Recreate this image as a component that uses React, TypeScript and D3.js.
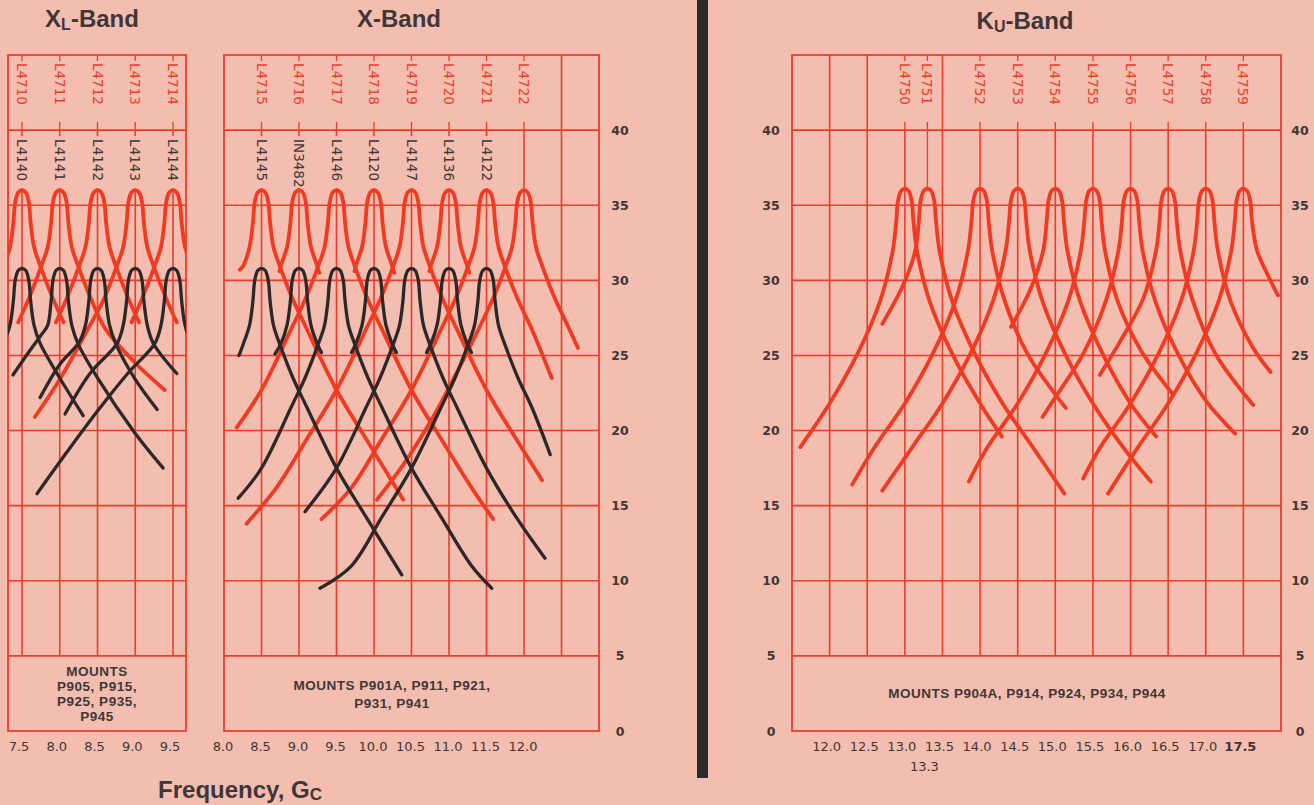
import React from "react";
import * as d3 from "d3";

type Pt = [number, number];

// ---------- axis / label data ----------
const valueTicks = [0, 5, 10, 15, 20, 25, 30, 35, 40];
const xlFreqTicks = [7.5, 8.0, 8.5, 9.0, 9.5];
const xFreqTicks = [8.0, 8.5, 9.0, 9.5, 10.0, 10.5, 11.0, 11.5, 12.0];
const kuFreqTicks = [12.0, 12.5, 13.0, 13.5, 14.0, 14.5, 15.0, 15.5, 16.0, 16.5, 17.0, 17.5];
const kuExtraTick = 13.3;

const xlRedLabels = ["L4710", "L4711", "L4712", "L4713", "L4714"];
const xlBlackLabels = ["L4140", "L4141", "L4142", "L4143", "L4144"];
const xlLabelFreqs = [7.5, 8.0, 8.5, 9.0, 9.5];

const xRedLabels = ["L4715", "L4716", "L4717", "L4718", "L4719", "L4720", "L4721", "L4722"];
const xRedFreqs = [8.5, 9.0, 9.5, 10.0, 10.5, 11.0, 11.5, 12.0];
const xBlackLabels = ["L4145", "IN3482", "L4146", "L4120", "L4147", "L4136", "L4122"];
const xBlackFreqs = [8.5, 9.0, 9.5, 10.0, 10.5, 11.0, 11.5];

const kuRedLabels = ["L4750", "L4751", "L4752", "L4753", "L4754", "L4755", "L4756", "L4757", "L4758", "L4759"];
const kuRedFreqs = [13.0, 13.3, 14.0, 14.5, 15.0, 15.5, 16.0, 16.5, 17.0, 17.5];

const xlMounts = ["MOUNTS", "P905, P915,", "P925, P935,", "P945"];
const xMounts = ["MOUNTS P901A, P911, P921,", "P931, P941"];
const kuMounts = ["MOUNTS P904A, P914, P924, P934, P944"];

// ---------- curve data (frequency Gc, value) ----------
const xlRed: Pt[][] = [
  [[7.2, 30.4], [7.26, 31.0], [7.34, 32.2], [7.385, 33.8], [7.41, 35.2], [7.45, 35.85], [7.5, 36], [7.55, 35.85], [7.59, 35.2], [7.615, 33.8], [7.66, 32.2], [7.74, 31.0], [7.9, 28.9], [8.05, 27.2]],
  [[7.45, 27.2], [7.6, 28.9], [7.76, 31.0], [7.84, 32.2], [7.885, 33.8], [7.91, 35.2], [7.95, 35.85], [8.0, 36], [8.05, 35.85], [8.09, 35.2], [8.115, 33.8], [8.16, 32.2], [8.24, 31.0], [8.42, 28.7], [8.6, 26.8], [9.0, 24.5], [9.39, 22.7]],
  [[7.95, 27.2], [8.1, 28.9], [8.26, 31.0], [8.34, 32.2], [8.385, 33.8], [8.41, 35.2], [8.45, 35.85], [8.5, 36], [8.55, 35.85], [8.59, 35.2], [8.615, 33.8], [8.66, 32.2], [8.74, 31.0], [8.9, 28.9], [9.05, 27.2]],
  [[7.67, 20.9], [8.0, 23.4], [8.4, 27.0], [8.58, 28.7], [8.76, 31.0], [8.84, 32.2], [8.885, 33.8], [8.91, 35.2], [8.95, 35.85], [9.0, 36], [9.05, 35.85], [9.09, 35.2], [9.115, 33.8], [9.16, 32.2], [9.24, 31.0], [9.4, 28.9], [9.55, 27.2]],
  [[8.95, 27.2], [9.1, 28.9], [9.26, 31.0], [9.34, 32.2], [9.385, 33.8], [9.41, 35.2], [9.45, 35.85], [9.5, 36], [9.55, 35.85], [9.59, 35.2], [9.615, 33.8], [9.66, 32.2], [9.74, 31.0], [9.8, 30.2]],
];
const xlBlack: Pt[][] = [
  [[7.2, 24.6], [7.26, 25.8], [7.34, 27.0], [7.385, 28.6], [7.41, 30.0], [7.45, 30.65], [7.5, 30.8], [7.55, 30.65], [7.59, 30.0], [7.615, 28.6], [7.66, 27.0], [7.74, 25.8], [8.0, 23.5], [8.31, 21.0]],
  [[7.38, 23.7], [7.6, 25.3], [7.76, 26.4], [7.84, 27.0], [7.885, 28.6], [7.91, 30.0], [7.95, 30.65], [8.0, 30.8], [8.05, 30.65], [8.09, 30.0], [8.115, 28.6], [8.16, 27.0], [8.24, 25.8], [8.5, 23.5], [9.0, 19.8], [9.37, 17.5]],
  [[7.74, 22.2], [8.0, 24.4], [8.26, 25.9], [8.34, 27.0], [8.385, 28.6], [8.41, 30.0], [8.45, 30.65], [8.5, 30.8], [8.55, 30.65], [8.59, 30.0], [8.615, 28.6], [8.66, 27.0], [8.74, 25.8], [9.0, 23.4], [9.29, 21.4]],
  [[8.07, 21.1], [8.4, 23.8], [8.76, 25.8], [8.84, 27.0], [8.885, 28.6], [8.91, 30.0], [8.95, 30.65], [9.0, 30.8], [9.05, 30.65], [9.09, 30.0], [9.115, 28.6], [9.16, 27.0], [9.24, 25.8], [9.55, 23.8]],
  [[7.7, 15.8], [8.1, 18.6], [8.5, 21.3], [8.9, 23.8], [9.26, 25.8], [9.34, 27.0], [9.385, 28.6], [9.41, 30.0], [9.45, 30.65], [9.5, 30.8], [9.55, 30.65], [9.59, 30.0], [9.615, 28.6], [9.66, 27.0], [9.74, 25.8], [9.8, 25.2]],
];

const xRed: Pt[][] = [
  [[8.21, 30.7], [8.26, 31.0], [8.34, 32.2], [8.385, 33.8], [8.41, 35.2], [8.45, 35.85], [8.5, 36], [8.55, 35.85], [8.59, 35.2], [8.615, 33.8], [8.66, 32.2], [8.74, 31.0], [8.92, 28.7], [9.1, 26.8], [9.5, 22.7], [9.9, 19.4], [10.39, 15.4]],
  [[8.74, 30.6], [8.76, 31.0], [8.84, 32.2], [8.885, 33.8], [8.91, 35.2], [8.95, 35.85], [9.0, 36], [9.05, 35.85], [9.09, 35.2], [9.115, 33.8], [9.16, 32.2], [9.24, 31.0], [9.27, 30.5]],
  [[8.17, 20.2], [8.5, 22.7], [8.9, 26.8], [9.08, 28.7], [9.26, 31.0], [9.34, 32.2], [9.385, 33.8], [9.41, 35.2], [9.45, 35.85], [9.5, 36], [9.55, 35.85], [9.59, 35.2], [9.615, 33.8], [9.66, 32.2], [9.74, 31.0], [9.92, 28.7], [10.1, 26.8], [10.5, 22.7], [10.9, 19.4], [11.3, 16.2], [11.59, 14.1]],
  [[9.74, 30.6], [9.76, 31.0], [9.84, 32.2], [9.885, 33.8], [9.91, 35.2], [9.95, 35.85], [10.0, 36], [10.05, 35.85], [10.09, 35.2], [10.115, 33.8], [10.16, 32.2], [10.24, 31.0], [10.27, 30.5]],
  [[8.3, 13.8], [8.7, 16.2], [9.1, 19.4], [9.5, 22.7], [9.9, 26.8], [10.08, 28.7], [10.26, 31.0], [10.34, 32.2], [10.385, 33.8], [10.41, 35.2], [10.45, 35.85], [10.5, 36], [10.55, 35.85], [10.59, 35.2], [10.615, 33.8], [10.66, 32.2], [10.74, 31.0], [10.92, 28.7], [11.1, 26.8], [11.5, 22.7], [11.9, 19.4], [12.24, 16.7]],
  [[10.74, 30.6], [10.76, 31.0], [10.84, 32.2], [10.885, 33.8], [10.91, 35.2], [10.95, 35.85], [11.0, 36], [11.05, 35.85], [11.09, 35.2], [11.115, 33.8], [11.16, 32.2], [11.24, 31.0], [11.27, 30.5]],
  [[9.3, 14.1], [9.7, 16.2], [10.1, 19.4], [10.5, 22.7], [10.9, 26.8], [11.08, 28.7], [11.26, 31.0], [11.34, 32.2], [11.385, 33.8], [11.41, 35.2], [11.45, 35.85], [11.5, 36], [11.55, 35.85], [11.59, 35.2], [11.615, 33.8], [11.66, 32.2], [11.74, 31.0], [11.92, 28.7], [12.1, 26.8], [12.37, 23.5]],
  [[10.04, 15.4], [10.4, 17.8], [10.8, 21.0], [11.2, 24.8], [11.58, 28.7], [11.76, 31.0], [11.84, 32.2], [11.885, 33.8], [11.91, 35.2], [11.95, 35.85], [12.0, 36], [12.05, 35.85], [12.09, 35.2], [12.115, 33.8], [12.16, 32.2], [12.24, 31.0], [12.42, 28.7], [12.6, 26.8], [12.72, 25.5]],
];
const xBlack: Pt[][] = [
  [[8.2, 25.0], [8.26, 25.8], [8.34, 27.0], [8.385, 28.6], [8.41, 30.0], [8.45, 30.65], [8.5, 30.8], [8.55, 30.65], [8.59, 30.0], [8.615, 28.6], [8.66, 27.0], [8.74, 25.8], [8.92, 23.5], [9.1, 21.6], [9.5, 17.5], [9.9, 14.2], [10.37, 10.4]],
  [[8.68, 25.1], [8.76, 25.8], [8.84, 27.0], [8.885, 28.6], [8.91, 30.0], [8.95, 30.65], [9.0, 30.8], [9.05, 30.65], [9.09, 30.0], [9.115, 28.6], [9.16, 27.0], [9.24, 25.8], [9.3, 25.2]],
  [[8.19, 15.5], [8.5, 17.5], [8.9, 21.6], [9.08, 23.5], [9.26, 25.8], [9.34, 27.0], [9.385, 28.6], [9.41, 30.0], [9.45, 30.65], [9.5, 30.8], [9.55, 30.65], [9.59, 30.0], [9.615, 28.6], [9.66, 27.0], [9.74, 25.8], [9.92, 23.5], [10.1, 21.6], [10.5, 17.5], [10.9, 14.2], [11.3, 11.0], [11.57, 9.5]],
  [[9.7, 25.2], [9.76, 25.8], [9.84, 27.0], [9.885, 28.6], [9.91, 30.0], [9.95, 30.65], [10.0, 30.8], [10.05, 30.65], [10.09, 30.0], [10.115, 28.6], [10.16, 27.0], [10.24, 25.8], [10.3, 25.2]],
  [[9.08, 14.6], [9.5, 17.5], [9.9, 21.6], [10.08, 23.5], [10.26, 25.8], [10.34, 27.0], [10.385, 28.6], [10.41, 30.0], [10.45, 30.65], [10.5, 30.8], [10.55, 30.65], [10.59, 30.0], [10.615, 28.6], [10.66, 27.0], [10.74, 25.8], [10.92, 23.5], [11.1, 21.6], [11.5, 17.5], [11.9, 14.2], [12.28, 11.5]],
  [[10.7, 25.2], [10.76, 25.8], [10.84, 27.0], [10.885, 28.6], [10.91, 30.0], [10.95, 30.65], [11.0, 30.8], [11.05, 30.65], [11.09, 30.0], [11.115, 28.6], [11.16, 27.0], [11.24, 25.8], [11.3, 25.2]],
  [[9.28, 9.5], [9.7, 11.0], [10.1, 14.2], [10.5, 17.5], [10.9, 21.6], [11.08, 23.5], [11.26, 25.8], [11.34, 27.0], [11.385, 28.6], [11.41, 30.0], [11.45, 30.65], [11.5, 30.8], [11.55, 30.65], [11.59, 30.0], [11.615, 28.6], [11.66, 27.0], [11.74, 25.8], [11.92, 23.5], [12.1, 21.6], [12.35, 18.4]],
];

const kuRed: Pt[][] = [
  [[11.61, 18.9], [12.0, 21.8], [12.37, 25.1], [12.67, 28.6], [12.84, 32.0], [12.885, 33.9], [12.91, 35.3], [12.95, 35.95], [13.0, 36.1], [13.05, 35.95], [13.09, 35.3], [13.115, 33.9], [13.16, 32.0], [13.33, 28.6], [13.63, 25.1], [14.0, 21.8], [14.29, 19.6]],
  [[12.7, 27.1], [12.97, 29.6], [13.14, 32.0], [13.185, 33.9], [13.21, 35.3], [13.25, 35.95], [13.3, 36.1], [13.35, 35.95], [13.39, 35.3], [13.415, 33.9], [13.46, 32.0], [13.63, 28.6], [13.93, 25.1], [14.3, 21.8], [14.7, 18.9], [15.12, 15.8]],
  [[12.3, 16.4], [12.6, 18.9], [13.0, 21.8], [13.37, 25.1], [13.67, 28.6], [13.84, 32.0], [13.885, 33.9], [13.91, 35.3], [13.95, 35.95], [14.0, 36.1], [14.05, 35.95], [14.09, 35.3], [14.115, 33.9], [14.16, 32.0], [14.33, 28.6], [14.63, 25.1], [15.0, 22.4], [15.14, 21.5]],
  [[12.7, 16.0], [13.1, 18.9], [13.5, 21.8], [13.87, 25.1], [14.17, 28.6], [14.34, 32.0], [14.385, 33.9], [14.41, 35.3], [14.45, 35.95], [14.5, 36.1], [14.55, 35.95], [14.59, 35.3], [14.615, 33.9], [14.66, 32.0], [14.83, 28.6], [15.13, 25.1], [15.5, 21.8], [15.9, 18.9], [16.27, 16.6]],
  [[14.41, 26.9], [14.67, 29.4], [14.84, 32.0], [14.885, 33.9], [14.91, 35.3], [14.95, 35.95], [15.0, 36.1], [15.05, 35.95], [15.09, 35.3], [15.115, 33.9], [15.16, 32.0], [15.33, 28.6], [15.63, 25.1], [16.0, 21.8], [16.34, 19.6]],
  [[13.85, 16.6], [14.1, 18.9], [14.5, 21.8], [14.87, 25.1], [15.17, 28.6], [15.34, 32.0], [15.385, 33.9], [15.41, 35.3], [15.45, 35.95], [15.5, 36.1], [15.55, 35.95], [15.59, 35.3], [15.615, 33.9], [15.66, 32.0], [15.83, 28.6], [16.13, 25.4], [16.55, 22.5]],
  [[14.83, 20.9], [15.0, 22.2], [15.37, 25.1], [15.67, 28.6], [15.84, 32.0], [15.885, 33.9], [15.91, 35.3], [15.95, 35.95], [16.0, 36.1], [16.05, 35.95], [16.09, 35.3], [16.115, 33.9], [16.16, 32.0], [16.33, 28.6], [16.63, 25.1], [17.0, 22.0], [17.39, 19.8]],
  [[15.59, 23.7], [15.87, 26.0], [16.17, 28.8], [16.34, 32.0], [16.385, 33.9], [16.41, 35.3], [16.45, 35.95], [16.5, 36.1], [16.55, 35.95], [16.59, 35.3], [16.615, 33.9], [16.66, 32.0], [16.83, 28.6], [17.13, 25.1], [17.63, 21.7]],
  [[15.37, 16.8], [15.6, 18.9], [16.0, 21.8], [16.37, 25.1], [16.67, 28.6], [16.84, 32.0], [16.885, 33.9], [16.91, 35.3], [16.95, 35.95], [17.0, 36.1], [17.05, 35.95], [17.09, 35.3], [17.115, 33.9], [17.16, 32.0], [17.33, 28.6], [17.63, 25.5], [17.86, 23.9]],
  [[15.7, 15.8], [16.1, 18.9], [16.5, 21.8], [16.87, 25.1], [17.17, 28.6], [17.34, 32.0], [17.385, 33.9], [17.41, 35.3], [17.45, 35.95], [17.5, 36.1], [17.55, 35.95], [17.59, 35.3], [17.615, 33.9], [17.68, 32.0], [17.8, 30.6], [17.96, 29.0]],
];

// ---------- styling ----------
const W = 1314;
const H = 805;
const BG = "#f3bdaf";
const GRID = "#ec3d2c";
const RED = "#f03a22";
const BLACK = "#2d2727";
const TEXT = "#3f3737";
const LABEL_FONT = "'DejaVu Sans', sans-serif";
const TITLE_FONT = "'Liberation Sans', Arial, sans-serif";

const yS = d3.scaleLinear().domain([0, 45]).range([731, 55]);

type PanelCfg = {
  id: string;
  x: d3.ScaleLinear<number, number>;
  left: number;
  right: number;
  grid: number[];
  labelAreaLines: number[];
  redLabels: string[];
  redFreqs: number[];
  blackLabels: string[];
  blackFreqs: number[];
  red: Pt[][];
  black: Pt[][];
  mounts: string[];
  mountsCenter: number;
  mountsLineY: number[];
};

const panels: PanelCfg[] = [
  {
    id: "xl",
    x: d3.scaleLinear().domain([7.5, 9.5]).range([22, 173]),
    left: 7.315,
    right: 9.672,
    grid: xlFreqTicks,
    labelAreaLines: [],
    redLabels: xlRedLabels,
    redFreqs: xlLabelFreqs,
    blackLabels: xlBlackLabels,
    blackFreqs: xlLabelFreqs,
    red: xlRed,
    black: xlBlack,
    mounts: xlMounts,
    mountsCenter: 97,
    mountsLineY: [676, 691, 706, 721],
  },
  {
    id: "x",
    x: d3.scaleLinear().domain([8.0, 13.0]).range([224, 599]),
    left: 8.0,
    right: 13.0,
    grid: [8.5, 9.0, 9.5, 10.0, 10.5, 11.0, 11.5, 12.0, 12.5],
    labelAreaLines: [12.5],
    redLabels: xRedLabels,
    redFreqs: xRedFreqs,
    blackLabels: xBlackLabels,
    blackFreqs: xBlackFreqs,
    red: xRed,
    black: xBlack,
    mounts: xMounts,
    mountsCenter: 392,
    mountsLineY: [690, 708],
  },
  {
    id: "ku",
    x: d3.scaleLinear().domain([11.5, 18.0]).range([792, 1281]),
    left: 11.5,
    right: 18.0,
    grid: [12.0, 12.5, 13.0, 13.5, 14.0, 14.5, 15.0, 15.5, 16.0, 16.5, 17.0, 17.5],
    labelAreaLines: [12.0, 12.5, 13.5],
    redLabels: kuRedLabels,
    redFreqs: kuRedFreqs,
    blackLabels: [],
    blackFreqs: [],
    red: kuRed,
    black: [],
    mounts: kuMounts,
    mountsCenter: 1027,
    mountsLineY: [698],
  },
];

function Panel({ p }: { p: PanelCfg }) {
  const x = p.x;
  const x0 = x(p.left);
  const x1 = x(p.right);
  const top = yS(45);
  const bot = yS(0);
  const line = d3
    .line<Pt>()
    .x((d) => x(d[0]))
    .y((d) => yS(d[1]))
    .curve(d3.curveCatmullRom.alpha(0.5));
  const clipId = `clip-${p.id}`;
  const gridW = 1.6;
  return (
    <g>
      <defs>
        <clipPath id={clipId}>
          <rect x={x0} y={top} width={x1 - x0} height={bot - top} />
        </clipPath>
      </defs>
      {[40, 35, 30, 25, 20, 15, 10, 5].map((v) => (
        <line key={`h${v}`} x1={x0} x2={x1} y1={yS(v)} y2={yS(v)} stroke={GRID} strokeWidth={gridW} />
      ))}
      {p.grid.map((f) => (
        <line key={`v${f}`} x1={x(f)} x2={x(f)} y1={yS(40)} y2={yS(5)} stroke={GRID} strokeWidth={gridW} />
      ))}
      {p.labelAreaLines.map((f) => (
        <line key={`la${f}`} x1={x(f)} x2={x(f)} y1={top} y2={yS(40)} stroke={GRID} strokeWidth={gridW} />
      ))}
      {p.redFreqs.map((f, i) => (
        <g key={`rt${i}`}>
          <line x1={x(f)} x2={x(f)} y1={top} y2={top + 6} stroke={GRID} strokeWidth={1.3} />
          <line x1={x(f)} x2={x(f)} y1={122} y2={yS(40)} stroke={GRID} strokeWidth={1.3} />
        </g>
      ))}
      {p.id === "ku" && (
        <line x1={x(kuExtraTick)} x2={x(kuExtraTick)} y1={yS(40)} y2={yS(36)} stroke={GRID} strokeWidth={1.3} />
      )}
      {p.blackFreqs.map((f, i) => (
        <rect key={`bm${i}`} x={x(f) - 7} y={yS(40) + 6} width={14} height={52} fill={BG} />
      ))}
      <rect x={x0} y={top} width={x1 - x0} height={bot - top} fill="none" stroke={GRID} strokeWidth={1.8} />
      {p.redLabels.map((t, i) => (
        <text
          key={`rl${i}`}
          transform={`translate(${x(p.redFreqs[i])},${top + 8}) rotate(90)`}
          dominantBaseline="central"
          fontFamily={LABEL_FONT}
          fontSize={13.5}
          fill={GRID}
        >
          {t}
        </text>
      ))}
      {p.blackLabels.map((t, i) => (
        <text
          key={`bl${i}`}
          transform={`translate(${x(p.blackFreqs[i])},${yS(40) + 9}) rotate(90)`}
          dominantBaseline="central"
          fontFamily={LABEL_FONT}
          fontSize={13.5}
          fill={TEXT}
        >
          {t}
        </text>
      ))}
      <g clipPath={`url(#${clipId})`} fill="none" strokeLinecap="round" strokeLinejoin="round">
        {p.red.map((c, i) => (
          <path key={`rc${i}`} d={line(c) || ""} stroke={RED} strokeWidth={3.8} />
        ))}
        {p.black.map((c, i) => (
          <path key={`bc${i}`} d={line(c) || ""} stroke={BLACK} strokeWidth={3.3} />
        ))}
      </g>
      {p.mounts.map((t, i) => (
        <text
          key={`m${i}`}
          x={p.mountsCenter}
          y={p.mountsLineY[i]}
          textAnchor="middle"
          fontFamily={TITLE_FONT}
          fontWeight={700}
          fontSize={13.5}
          letterSpacing={0.5}
          fill={TEXT}
        >
          {t}
        </text>
      ))}
    </g>
  );
}

export default function App() {
  const xlX = panels[0].x;
  const xX = panels[1].x;
  const kuX = panels[2].x;
  const fmt = d3.format(".1f");
  return (
    <svg
      width={W}
      height={H}
      viewBox={`0 0 ${W} ${H}`}
      style={{ position: "absolute", left: 0, top: 0, display: "block" }}
    >
      <rect x={0} y={0} width={W} height={H} fill={BG} />
      <text x={92} y={27} textAnchor="middle" fontFamily={TITLE_FONT} fontWeight={700} fontSize={24} fill={TEXT}>
        X<tspan fontSize={16} dy={3}>L</tspan>
        <tspan dy={-3}>-Band</tspan>
      </text>
      <text x={399} y={27} textAnchor="middle" fontFamily={TITLE_FONT} fontWeight={700} fontSize={24} fill={TEXT}>
        X-Band
      </text>
      <text x={1025} y={29} textAnchor="middle" fontFamily={TITLE_FONT} fontWeight={700} fontSize={24} fill={TEXT}>
        K<tspan fontSize={16} dy={3}>U</tspan>
        <tspan dy={-3}>-Band</tspan>
      </text>

      {panels.map((p) => (
        <Panel key={p.id} p={p} />
      ))}

      {valueTicks.map((v) => (
        <g key={`va${v}`} fontFamily={LABEL_FONT} fontWeight={700} fontSize={12.5} fill={TEXT} textAnchor="middle">
          <text x={620} y={yS(v) + 4.5}>{v}</text>
          <text x={771} y={yS(v) + 4.5}>{v}</text>
          <text x={1300} y={yS(v) + 4.5}>{v}</text>
        </g>
      ))}

      {xlFreqTicks.map((f) => (
        <text key={`xlf${f}`} x={xlX(f) - 3} y={751} textAnchor="middle" fontFamily={LABEL_FONT} fontSize={13} fill={TEXT}>
          {fmt(f)}
        </text>
      ))}
      {xFreqTicks.map((f) => (
        <text key={`xf${f}`} x={xX(f) - 1} y={751} textAnchor="middle" fontFamily={LABEL_FONT} fontSize={13} fill={TEXT}>
          {fmt(f)}
        </text>
      ))}
      {kuFreqTicks.map((f) => (
        <text
          key={`kf${f}`}
          x={kuX(f) - 3}
          y={751}
          textAnchor="middle"
          fontFamily={LABEL_FONT}
          fontSize={13}
          fontWeight={f === 17.5 ? 700 : 400}
          fill={TEXT}
        >
          {fmt(f)}
        </text>
      ))}
      <text x={kuX(kuExtraTick) - 3} y={771} textAnchor="middle" fontFamily={LABEL_FONT} fontSize={13} fill={TEXT}>
        {fmt(kuExtraTick)}
      </text>

      <text x={240} y={798} textAnchor="middle" fontFamily={TITLE_FONT} fontWeight={700} fontSize={24} fill={TEXT}>
        Frequency, G<tspan fontSize={17} dy={2}>C</tspan>
      </text>

      <rect x={697} y={0} width={11} height={778} fill="#2e2929" />
    </svg>
  );
}
